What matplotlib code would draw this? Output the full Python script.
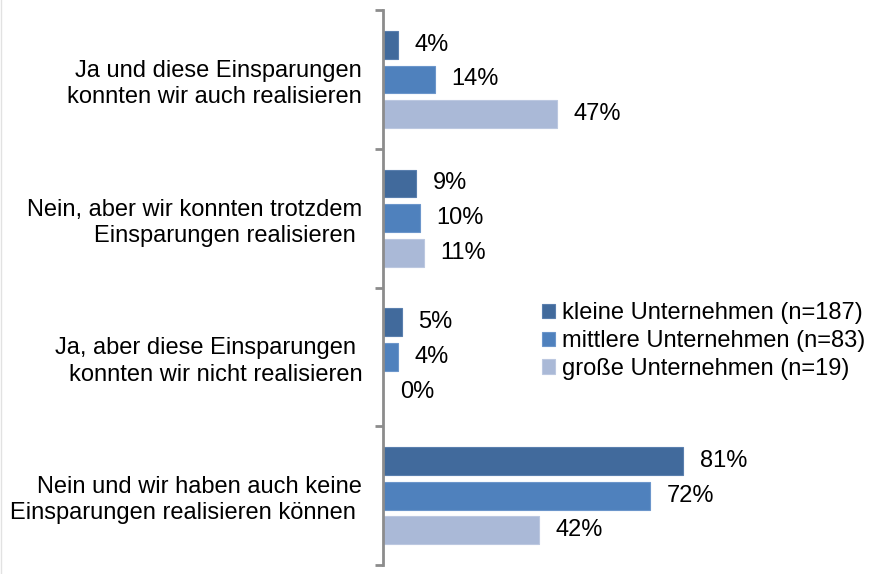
import matplotlib
matplotlib.use("Agg")
import matplotlib.pyplot as plt
from matplotlib.lines import Line2D
import numpy as np

plt.rcParams['font.family'] = ['Liberation Sans', 'DejaVu Sans']

categories = [
    "Ja und diese Einsparungen\nkonnten wir auch realisieren",
    "Nein, aber wir konnten trotzdem\nEinsparungen realisieren ",
    "Ja, aber diese Einsparungen \nkonnten wir nicht realisieren",
    "Nein und wir haben auch keine\nEinsparungen realisieren können ",
]
series_names = [
    "kleine Unternehmen (n=187)",
    "mittlere Unternehmen (n=83)",
    "große Unternehmen (n=19)",
]
kleine = [4, 9, 5, 81]
mittlere = [14, 10, 4, 72]
grosse = [47, 11, 0, 42]
colors = ["#416A9C", "#4F81BD", "#AAB9D7"]
edgecolors = ["#5A7FAE", "#6C96CB", "#BCC8E0"]

FS = 17

fig = plt.figure(figsize=(8.81, 5.74), dpi=100)
ax = fig.add_axes([383 / 881, 9 / 574, 370.4 / 881, 555 / 574])

y = np.arange(len(categories))
offsets = [-0.25, 0.0, 0.25]
h = 0.2
for vals, off, c, ec, name in zip([kleine, mittlere, grosse], offsets, colors, edgecolors, series_names):
    bars = ax.barh(y + off, vals, height=h, color=c, edgecolor=ec, linewidth=0.8, label=name)
    for b, v in zip(bars, vals):
        ax.annotate(f"{v}%", xy=(b.get_width(), b.get_y() + b.get_height() / 2),
                    xytext=(12, 0), textcoords="offset points",
                    ha="left", va="center", fontsize=FS, color="#000000")

ax.set_xlim(0, 100)
ax.set_ylim(len(categories) - 0.5, -0.5)

ax.set_yticks(y)
ax.set_yticklabels(categories, fontsize=FS, multialignment="right", linespacing=1.25)
ax.set_yticks(np.arange(len(categories) + 1) - 0.5, minor=True)
ax.tick_params(axis="y", which="major", length=0, pad=15)
ax.tick_params(axis="y", which="minor", length=6, width=2, color="#8C8C8C")
ax.set_xticks([])

for s in ["top", "right", "bottom"]:
    ax.spines[s].set_visible(False)
ax.spines["left"].set_color("#8C8C8C")
ax.spines["left"].set_linewidth(2)

leg = ax.legend(loc="center left", bbox_to_anchor=(542 / 881, 1 - 341 / 574),
                bbox_transform=fig.transFigure, frameon=False, fontsize=FS,
                handlelength=0.55, handleheight=0.55, handletextpad=0.3,
                labelspacing=0.25, borderpad=0, borderaxespad=0)

fig.add_artist(Line2D([0.0015, 0.0015], [0, 1], transform=fig.transFigure, color="#E2E2E2", linewidth=1))

fig.savefig("out.png", dpi=100)
